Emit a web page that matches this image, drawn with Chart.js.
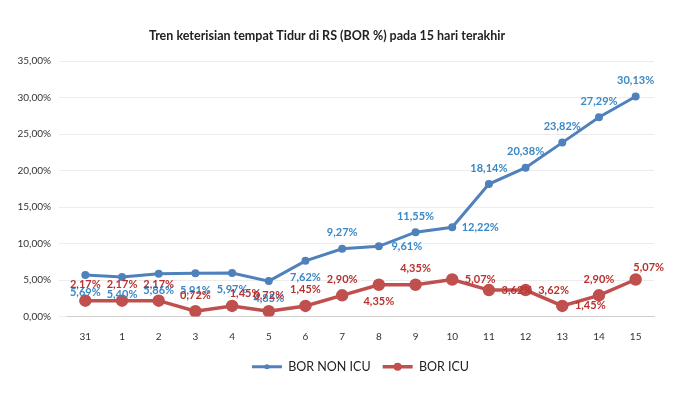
<!DOCTYPE html>
<html>
<head>
<meta charset="utf-8">
<script src="https://cdn.jsdelivr.net/npm/chart.js@4"></script>
<style>
    html, body { margin: 0; padding: 0; background: #fff; }
    #wrap { width: 700px; height: 393px; }
</style>
</head>
<body>
<div id="wrap"><canvas id="borChart" width="700" height="393"></canvas></div>
<script>
// data
const days = ['31', '1', '2', '3', '4', '5', '6', '7', '8', '9', '10', '11', '12', '13', '14', '15'];
const borNonIcu = [5.69, 5.40, 5.86, 5.91, 5.97, 4.85, 7.62, 9.27, 9.61, 11.55, 12.22, 18.14, 20.38, 23.82, 27.29, 30.13];
const borIcu = [2.17, 2.17, 2.17, 0.72, 1.45, 0.72, 1.45, 2.90, 4.35, 4.35, 5.07, 3.62, 3.62, 1.45, 2.90, 5.07];

// where each value label sits relative to its point (a = above, b = below, r = right)
const nonIcuPlace = ['b', 'b', 'b', 'b', 'b', 'b', 'b', 'a', 'r', 'a', 'r', 'a', 'a', 'a', 'a', 'a'];
const icuPlace = ['a', 'a', 'a', 'a', 'ar', 'a', 'a', 'a', 'b', 'a', 'r', 'r', 'r', 'r', 'a', 'ar'];

const colors = {
    nonIcu: '#4F81BD',
    nonIcuText: '#3A88C6',
    icu: '#C0504D',
    icuText: '#B8312F'
};

const fmt = v => v.toFixed(2).replace('.', ',') + '%';

// value labels like the Excel original
const valueLabels = {
    id: 'valueLabels',
    afterDatasetsDraw(chart) {
        const ctx = chart.ctx;
        ctx.save();
        ctx.font = 'bold 11px Lato';
        ctx.textAlign = 'center';
        ctx.textBaseline = 'middle';
        chart.data.datasets.forEach((ds, i) => {
            const meta = chart.getDatasetMeta(i);
            ctx.fillStyle = ds.labelColor;
            meta.data.forEach((pt, j) => {
                const p = ds.labelPlace[j];
                let x = pt.x, y = pt.y;
                if (p === 'a') y -= 16;
                else if (p === 'b') y += 17;
                else if (p === 'r') x += 28;
                else if (p === 'ar') { x += 13; y -= 12; }
                ctx.fillText(fmt(ds.data[j]), x, y);
            });
        });
        ctx.restore();
    }
};

// marker dot in the middle of each legend line
const legendDots = {
    id: 'legendDots',
    afterDraw(chart) {
        const ctx = chart.ctx;
        const boxes = chart.legend.legendHitBoxes;
        ctx.save();
        boxes.forEach((b, i) => {
            const ds = chart.data.datasets[i];
            ctx.fillStyle = ds.borderColor;
            ctx.beginPath();
            ctx.arc(b.left + 15, b.top + b.height / 2, Math.min(ds.pointRadius, 4), 0, Math.PI * 2);
            ctx.fill();
        });
        ctx.restore();
    }
};

new Chart(document.getElementById('borChart'), {
    type: 'line',
    data: {
        labels: days,
        datasets: [
            {
                label: 'BOR NON ICU',
                data: borNonIcu,
                borderColor: colors.nonIcu,
                backgroundColor: colors.nonIcu,
                borderWidth: 3,
                pointRadius: 2.5,
                tension: 0,
                labelColor: colors.nonIcuText,
                labelPlace: nonIcuPlace
            },
            {
                label: 'BOR ICU',
                data: borIcu,
                borderColor: colors.icu,
                backgroundColor: colors.icu,
                borderWidth: 3.5,
                pointRadius: 4.5,
                tension: 0,
                labelColor: colors.icuText,
                labelPlace: icuPlace
            }
        ]
    },
    options: {
        responsive: false,
        animation: false,
        layout: { padding: { left: 0, right: 46, top: 8, bottom: 10 } },
        plugins: {
            title: {
                display: true,
                text: 'Tren keterisian tempat Tidur di RS (BOR %) pada 15 hari terakhir',
                color: '#222',
                font: { family: 'Lato', size: 12.5, weight: 'bold' },
                padding: { top: 20, bottom: 18 }
            },
            legend: {
                position: 'bottom',
                fullSize: false,
                labels: {
                    usePointStyle: true,
                    pointStyle: 'line',
                    pointStyleWidth: 30,
                    color: '#222',
                    font: { family: 'Lato', size: 12.5 },
                    padding: 12
                }
            },
            tooltip: { enabled: false }
        },
        scales: {
            x: {
                offset: true,
                grid: { display: false },
                border: { color: '#d0d0d0' },
                ticks: { color: '#333', font: { family: 'Lato', size: 10 }, padding: 6 }
            },
            y: {
                min: 0,
                max: 35,
                afterFit: s => { s.width = 67; },
                grid: { color: '#ececec' },
                border: { display: false },
                ticks: {
                    stepSize: 5,
                    color: '#333',
                    font: { family: 'Lato', size: 10 },
                    padding: 8,
                    callback: v => fmt(v)
                }
            }
        }
    },
    plugins: [valueLabels, legendDots]
});
</script>
</body>
</html>
